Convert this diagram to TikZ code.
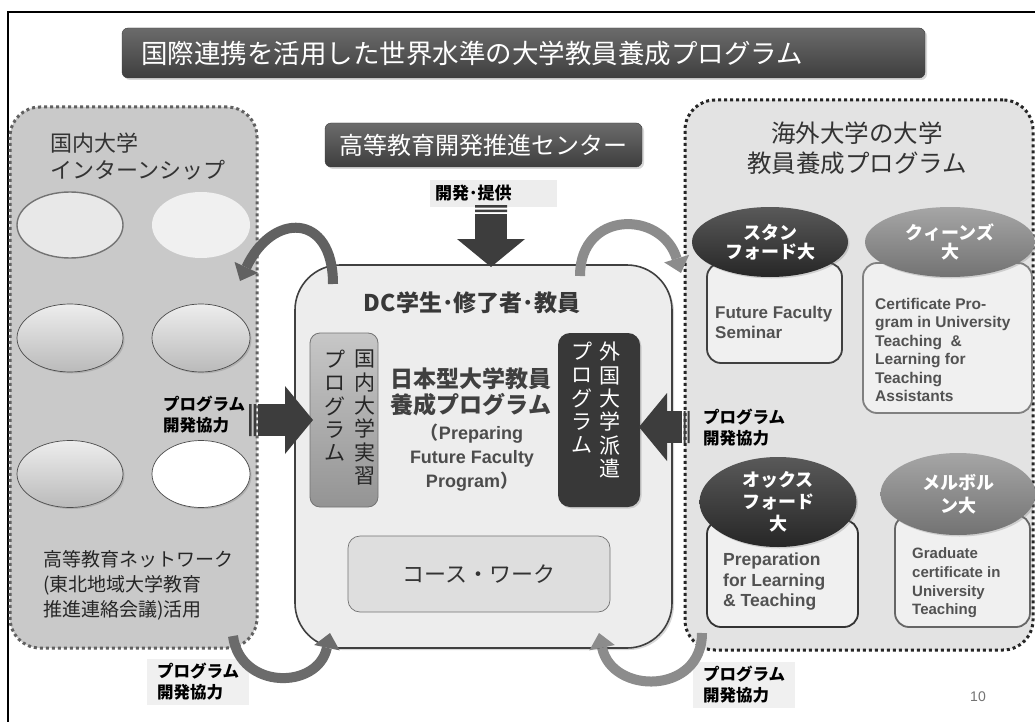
\documentclass[tikz,border=0pt]{standalone}
\usepackage{fontspec}
\setmainfont{Liberation Sans}
\newfontfamily\jp{Noto Sans CJK JP}
\usetikzlibrary{positioning,shapes.geometric,shadows,arrows.meta}
\definecolor{barA}{HTML}{6B6B6B}
\definecolor{barB}{HTML}{3E3E3E}
\definecolor{leftfill}{HTML}{C9C9C9}
\definecolor{rightfill}{HTML}{E3E3E3}
\definecolor{centrefill}{HTML}{EDEDED}

\begin{document}
\begin{tikzpicture}[x=1pt,y=-1pt,font=\jp,
    bar/.style={rounded corners=6pt,top color=barA,bottom color=barB,draw=barB,text=white,inner sep=0pt,
                drop shadow={opacity=.3,shadow xshift=2pt,shadow yshift=-2pt}},
    panel/.style={rounded corners=30pt,dash pattern=on 3pt off 3pt,line width=3pt,inner sep=0pt},
    blob/.style={ellipse,inner sep=0pt,draw=black!70,line width=.7pt,top color=black!7,bottom color=black!27,
                 drop shadow={opacity=.35,shadow xshift=1.5pt,shadow yshift=-1.5pt}},
    progbox/.style={rounded corners=14pt,fill=black!6,line width=1.8pt,inner sep=0pt},
    badge/.style={ellipse,inner sep=0pt,text=white,align=center,font=\jp\bfseries\fontsize{18}{19}\selectfont,
                  drop shadow={opacity=.3,shadow xshift=1.5pt,shadow yshift=-1.5pt}},
    entext/.style={align=left,inner sep=0pt,text=black!68,anchor=west},
    coop/.style={align=left,inner sep=0pt,anchor=west,font=\jp\bfseries\fontsize{16.5}{21}\selectfont},
    vtext/.style={align=center,inner sep=0pt,anchor=north,font=\jp\fontsize{21}{23.3}\selectfont},
    blockarrow/.style={draw=black!76,line width=32pt,-{Triangle[width=68pt,length=28pt,line width=0pt]}},
    curvearrow/.style={line width=10pt,-{Triangle[width=26pt,length=15pt,line width=0pt]}}
  ]
  \useasboundingbox (0,0) rectangle (1035,722);
  \fill[white] (0,0) rectangle (1035,722);
  \draw[line width=2.2pt] (8,722) -- (8,12) -- (1035,12);

  \node[bar,minimum width=803,minimum height=50,text width=765pt,align=left,font=\jp\fontsize{26.5}{30}\selectfont] (title) at (523.5,53) {国際連携を活用した世界水準の大学教員養成プログラム};

  % panels
  \node[panel,fill=leftfill,draw=black!62,minimum width=247,minimum height=541] (domestic) at (133.5,377.5) {};
  \node[panel,fill=rightfill,draw=black!85,minimum width=348,minimum height=550] (overseas) at (859,375) {};
  \node[anchor=west,align=left,inner sep=0pt,text=black!80,font=\jp\fontsize{22}{27}\selectfont] (domtitle) at (50,156.5) {国内大学\\インターンシップ};
  \node[align=center,inner sep=0pt,text=black!80,font=\jp\fontsize{24.5}{30}\selectfont] (ovtitle) at (857,148) {海外大学の大学\\教員養成プログラム};

  \node[ellipse,inner sep=0pt,minimum width=106,minimum height=66,fill=black!9,draw=black!55,line width=1.4pt] (dom1) at (70,225) {};
  \node[ellipse,inner sep=0pt,minimum width=98,minimum height=66,fill=black!6] (dom2) at (201,225) {};
  \node[blob,minimum width=106,minimum height=68] (dom3) at (70,338) {};
  \node[blob,minimum width=98,minimum height=68] (dom4) at (201,338) {};
  \node[blob,minimum width=106,minimum height=67] (dom5) at (70,474) {};
  \node[ellipse,inner sep=0pt,fill=white,draw=black!70,line width=.7pt,minimum width=98,minimum height=67,
        drop shadow={opacity=.35,shadow xshift=1.5pt,shadow yshift=-1.5pt}] (dom6) at (201,474) {};
  \node[anchor=west,align=left,inner sep=0pt,text=black!85,font=\jp\fontsize{19}{25}\selectfont] (network) at (43,585) {高等教育ネットワーク\\(東北地域大学教育\\推進連絡会議)活用};

  % centre
  \node[rounded corners=45pt,fill=centrefill,draw=black!75,line width=1.6pt,minimum width=377,minimum height=383,inner sep=0pt,
        drop shadow={opacity=.3,shadow xshift=2pt,shadow yshift=-2pt}] (dc) at (483.5,456.5) {};
  \node[bar,minimum width=317,minimum height=44,font=\jp\fontsize{24}{28}\selectfont] (centre) at (483.5,145) {高等教育開発推進センター};
  \node[fill=black!7,minimum width=127,minimum height=27,inner sep=0pt,text width=117pt,align=left,font=\jp\bfseries\fontsize{17}{20}\selectfont] (provide) at (493.5,193.5) {開発･提供};

  \node[inner sep=0pt,text=black!78,font=\jp\bfseries\fontsize{23}{26}\selectfont] (dchead) at (472,303) {DC学生･修了者･教員};
  \node[rounded corners=10pt,top color=black!22,bottom color=black!42,draw=black!55,line width=.8pt,minimum width=68,minimum height=174,inner sep=0pt] (domprog) at (344,420) {};
  \node[vtext,text=black!85] (domprogA) at (365,350) {国\\内\\大\\学\\実\\習};
  \node[vtext,text=black!85] (domprogB) at (335,350) {プ\\ロ\\グ\\ラ\\ム};
  \node[rounded corners=12pt,fill=black!78,minimum width=82,minimum height=174,inner sep=0pt,
        drop shadow={opacity=.3,shadow xshift=1.5pt,shadow yshift=-1.5pt}] (ovprog) at (599,420) {};
  \node[vtext,text=white] (ovprogA) at (610,342) {外\\国\\大\\学\\派\\遣};
  \node[vtext,text=white] (ovprogB) at (582,342) {プ\\ロ\\グ\\ラ\\ム};
  \node[align=center,inner sep=0pt,text=black!75,font=\jp\bfseries\fontsize{23}{26}\selectfont] (pff) at (471,392) {日本型大学教員\\養成プログラム};
  \node[align=center,inner sep=0pt,text=black!70,font=\rmfamily\bfseries\fontsize{18}{24}\selectfont] (pffen) at (472,458) {{\jp（}Preparing\\Future Faculty\\Program{\jp）}};
  \node[rounded corners=12pt,fill=black!13,draw=black!55,line width=.7pt,minimum width=262,minimum height=76,inner sep=0pt,
        text=black!80,font=\jp\fontsize{22}{26}\selectfont] (course) at (479,574) {コース・ワーク};

  % overseas programmes
  \node[progbox,draw=black!75,minimum width=135,minimum height=100] (stanbox) at (774.5,313) {};
  \node[progbox,draw=black!50,minimum width=169,minimum height=150] (queenbox) at (947.5,338) {};
  \node[progbox,draw=black!80,minimum width=151,minimum height=107] (oxbox) at (782.5,573.5) {};
  \node[progbox,draw=black!60,minimum width=135,minimum height=112] (melbox) at (962.5,571) {};
  \node[badge,top color=black!65,bottom color=black!85,minimum width=156,minimum height=70] (stanford) at (770,242) {スタン\\フォード大};
  \node[badge,top color=black!35,bottom color=black!55,minimum width=170,minimum height=70] (queens) at (950,242) {クィーンズ\\大};
  \node[badge,top color=black!65,bottom color=black!85,minimum width=157,minimum height=90,font=\jp\bfseries\fontsize{18}{22}\selectfont] (oxford) at (778,502) {オックス\\フォード\\大};
  \node[badge,top color=black!35,bottom color=black!55,minimum width=155,minimum height=82,font=\jp\bfseries\fontsize{18}{23}\selectfont] (melbourne) at (958,494) {メルボル\\ン大};
  \node[entext,font=\rmfamily\bfseries\fontsize{17}{20}\selectfont] (stantext) at (715,322) {Future Faculty\\Seminar};
  \node[entext,font=\rmfamily\bfseries\fontsize{15.5}{18.4}\selectfont] (queentext) at (875,350) {Certificate Pro-\\gram in University\\Teaching\ \ \&\\Learning for\\Teaching\\Assistants};
  \node[entext,font=\rmfamily\bfseries\fontsize{17.5}{20.5}\selectfont] (oxtext) at (723,582) {Preparation\\for Learning\\\& Teaching};
  \node[entext,font=\rmfamily\bfseries\fontsize{15}{18.7}\selectfont] (meltext) at (912,583) {Graduate\\certificate in\\University\\Teaching};

  % block arrows
  \coordinate (downtail) at (491,214);
  \coordinate (downtip) at (491,267);
  \fill[black!76] (475,205) rectangle (507,207.5) (475,209.5) rectangle (507,212);
  \draw[blockarrow] (downtail) -- (downtip);
  \coordinate (lefttail) at (258,420);
  \coordinate (lefttip) at (313,420);
  \fill[black!76] (249,404) rectangle (251.5,436) (253.5,404) rectangle (256,436);
  \draw[blockarrow] (lefttail) -- (lefttip);
  \coordinate (righttail) at (682,427);
  \coordinate (righttip) at (639,427);
  \fill[black!76] (683.5,411) rectangle (685.5,443) (687.5,411) rectangle (689.5,443);
  \draw[blockarrow] (righttail) -- (righttip);

  \node[coop] (coopL) at (163,415) {プログラム\\開発協力};
  \node[coop] (coopR) at (703,427.5) {プログラム\\開発協力};
  \node[coop,fill=black!6,inner xsep=10pt,inner ysep=4pt] (coopBL) at (147,682) {プログラム\\開発協力};
  \node[coop,fill=black!6,inner xsep=10pt,inner ysep=4pt] (coopBR) at (693,685) {プログラム\\開発協力};

  % curved arrows
  \coordinate (c1a) at (333,284);
  \coordinate (c1b) at (240,281);
  \draw[curvearrow,draw=black!62] (c1a) .. controls (333,212) and (272,212) .. (c1b);
  \coordinate (c2a) at (580,276);
  \coordinate (c2b) at (681,273);
  \draw[curvearrow,draw=black!45] (c2a) .. controls (580,210) and (662,210) .. (c2b);
  \coordinate (c3a) at (233,636);
  \coordinate (c3b) at (330,633);
  \draw[curvearrow,draw=black!58] (c3a) .. controls (240,690) and (318,690) .. (c3b);
  \coordinate (c4a) at (702,633);
  \coordinate (c4b) at (599,633);
  \draw[curvearrow,draw=black!45] (c4a) .. controls (702,695) and (612,695) .. (c4b);

  \node[text=black!55,font=\rmfamily\fontsize{14}{16}\selectfont] (pagenum) at (978,697) {10};
\end{tikzpicture}
\end{document}
